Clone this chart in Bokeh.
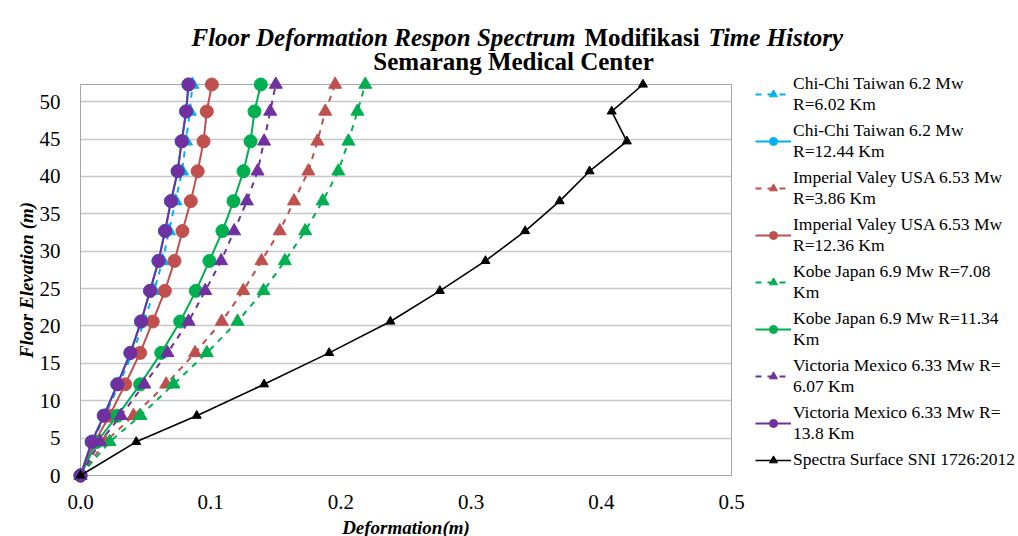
from bokeh.plotting import figure
from bokeh.models import Legend, LegendItem, FixedTicker, NumeralTickFormatter
from bokeh.core.properties import value
from bokeh.embed import file_html
from bokeh.resources import INLINE

# ---------------- data ----------------
elevation = [0, 4.5, 8.0, 12.2, 16.4, 20.6, 24.7, 28.7, 32.7, 36.7, 40.7, 44.7, 48.7, 52.3]

chichi_602 = [0, 0.009, 0.019, 0.0295, 0.040, 0.049, 0.0565, 0.063, 0.068, 0.073, 0.078, 0.081, 0.084, 0.086]
chichi_1244 = [0, 0.0085, 0.0178, 0.0282, 0.0382, 0.0464, 0.0533, 0.0598, 0.0648, 0.0694, 0.0745, 0.0776, 0.081, 0.0828]
imperial_386 = [0, 0.019, 0.0407, 0.0658, 0.088, 0.1085, 0.125, 0.139, 0.153, 0.164, 0.175, 0.182, 0.188, 0.1956]
imperial_1236 = [0, 0.011, 0.0223, 0.0343, 0.0458, 0.0555, 0.0648, 0.0722, 0.0783, 0.0847, 0.090, 0.0945, 0.097, 0.1009]
kobe_708 = [0, 0.0223, 0.046, 0.0714, 0.097, 0.1206, 0.1406, 0.157, 0.1726, 0.186, 0.198, 0.2058, 0.2127, 0.2187]
kobe_1134 = [0, 0.0125, 0.0284, 0.0458, 0.062, 0.0766, 0.0886, 0.099, 0.109, 0.1175, 0.1252, 0.1306, 0.1336, 0.1385]
victoria_607 = [0, 0.0151, 0.031, 0.049, 0.0668, 0.083, 0.0958, 0.108, 0.118, 0.1278, 0.136, 0.141, 0.1457, 0.150]
victoria_138 = [0, 0.0087, 0.018, 0.0284, 0.0384, 0.0466, 0.0535, 0.060, 0.065, 0.0696, 0.0747, 0.0778, 0.0812, 0.083]
spectra_sni = [0, 0.0428, 0.0893, 0.141, 0.191, 0.238, 0.276, 0.311, 0.3415, 0.368, 0.391, 0.4196, 0.408, 0.432]

series_labels = [
    "Chi-Chi Taiwan 6.2 Mw\nR=6.02 Km",
    "Chi-Chi Taiwan 6.2 Mw\nR=12.44 Km",
    "Imperial Valey USA 6.53 Mw\nR=3.86 Km",
    "Imperial Valey USA 6.53 Mw\nR=12.36 Km",
    "Kobe Japan 6.9 Mw R=7.08\nKm",
    "Kobe Japan 6.9 Mw R=11.34\nKm",
    "Victoria Mexico 6.33 Mw R=\n6.07 Km",
    "Victoria Mexico 6.33 Mw R=\n13.8 Km",
    "Spectra Surface SNI 1726:2012",
]
title_line1 = ["Floor Deformation Respon Spectrum", "Modifikasi", "Time History"]
title_line2 = "Semarang Medical Center"
x_ticks = [0.0, 0.1, 0.2, 0.3, 0.4, 0.5]
y_ticks = [0, 5, 10, 15, 20, 25, 30, 35, 40, 45, 50]

# ---------------- styles ----------------
SERIF = "Liberation Serif"
CYAN = "#00b0f0"
RED = "#c0504d"
GREEN = "#00b050"
PURPLE = "#7030a0"
BLACK = "#000000"

styles = [
    (chichi_602, CYAN, "dashed", "triangle"),
    (chichi_1244, CYAN, "solid", "circle"),
    (imperial_386, RED, "dashed", "triangle"),
    (imperial_1236, RED, "solid", "circle"),
    (kobe_708, GREEN, "dashed", "triangle"),
    (kobe_1134, GREEN, "solid", "circle"),
    (victoria_607, PURPLE, "dashed", "triangle"),
    (victoria_138, PURPLE, "solid", "circle"),
    (spectra_sni, BLACK, "solid", "triangle"),
]

p = figure(
    frame_width=651, frame_height=391,
    min_border_left=80, min_border_right=286, min_border_top=84, min_border_bottom=56,
    x_range=(0, 0.5), y_range=(0, 52.3),
    output_backend="svg", toolbar_location=None,
)
p.background_fill_color = "white"
p.border_fill_color = "white"
p.outline_line_color = "#a6a6a6"
p.outline_line_width = 1

for ax in (p.xaxis[0], p.yaxis[0]):
    ax.axis_line_color = "#a6a6a6"
    ax.major_tick_line_color = None
    ax.minor_tick_line_color = None
    ax.major_label_text_font = SERIF
    ax.major_label_text_font_size = "21px"
    ax.major_label_text_color = "#000000"
    ax.axis_label_text_font = SERIF
    ax.axis_label_text_font_size = "19px"
    ax.axis_label_text_font_style = "bold italic"
    ax.axis_label_text_color = "#000000"

p.xaxis.ticker = FixedTicker(ticks=x_ticks)
p.xaxis.formatter = NumeralTickFormatter(format="0.0")
p.xaxis.major_label_standoff = 13
p.xaxis.axis_label = "Deformation(m)"
p.xaxis.axis_label_standoff = 5

p.yaxis.ticker = FixedTicker(ticks=y_ticks)
p.yaxis.major_label_standoff = 14
p.yaxis.axis_label = "Floor Elevation (m)"
p.yaxis.axis_label_standoff = 0

p.xgrid.grid_line_color = None
p.ygrid.ticker = FixedTicker(ticks=y_ticks)
p.ygrid.grid_line_color = "#c8c8c8"
p.ygrid.grid_line_width = 1.5

items = []
for (vals, color, dash, marker), label in zip(styles, series_labels):
    is_black = color == BLACK
    lw = 1.6 if is_black else 2
    lr = p.line(vals, elevation, line_color=color, line_width=lw, line_dash=dash, level="overlay")
    msize = 9 if is_black else 13
    sr = p.scatter(vals, elevation, marker=marker, size=msize, fill_color=color,
                   line_color=color, level="overlay")
    items.append(LegendItem(label=label, renderers=[lr, sr]))

legend = Legend(
    items=items,
    location=(24, 5),
    orientation="vertical",
    glyph_width=36, glyph_height=20,
    label_standoff=2,
    spacing=5,
    padding=0, margin=0,
    border_line_color=None,
    background_fill_alpha=0,
    label_text_font=SERIF,
    label_text_font_size="17.5px",
    label_text_line_height=1.2,
    label_text_color="#000000",
)
p.add_layout(legend, "right")

# title (mixed styles) drawn as overlay text glyphs
t1_x = [0.3802, 0.4313, 0.4824]
t1_align = ["right", "center", "left"]
t1_style = ["bold italic", "bold", "bold italic"]
for txt, tx, al, st in zip(title_line1, t1_x, t1_align, t1_style):
    p.text(x=[tx], y=[58.6], text=[txt], text_font=value(SERIF), text_font_size="25px",
           text_font_style=st, text_align=al, text_baseline="alphabetic",
           text_color="#000000", level="overlay")
p.text(x=[0.3326], y=[55.4], text=[title_line2], text_font=value(SERIF), text_font_size="25px",
       text_font_style="bold", text_align="center", text_baseline="alphabetic",
       text_color="#000000", level="overlay")

open("out.html", "w").write(file_html(p, INLINE))
